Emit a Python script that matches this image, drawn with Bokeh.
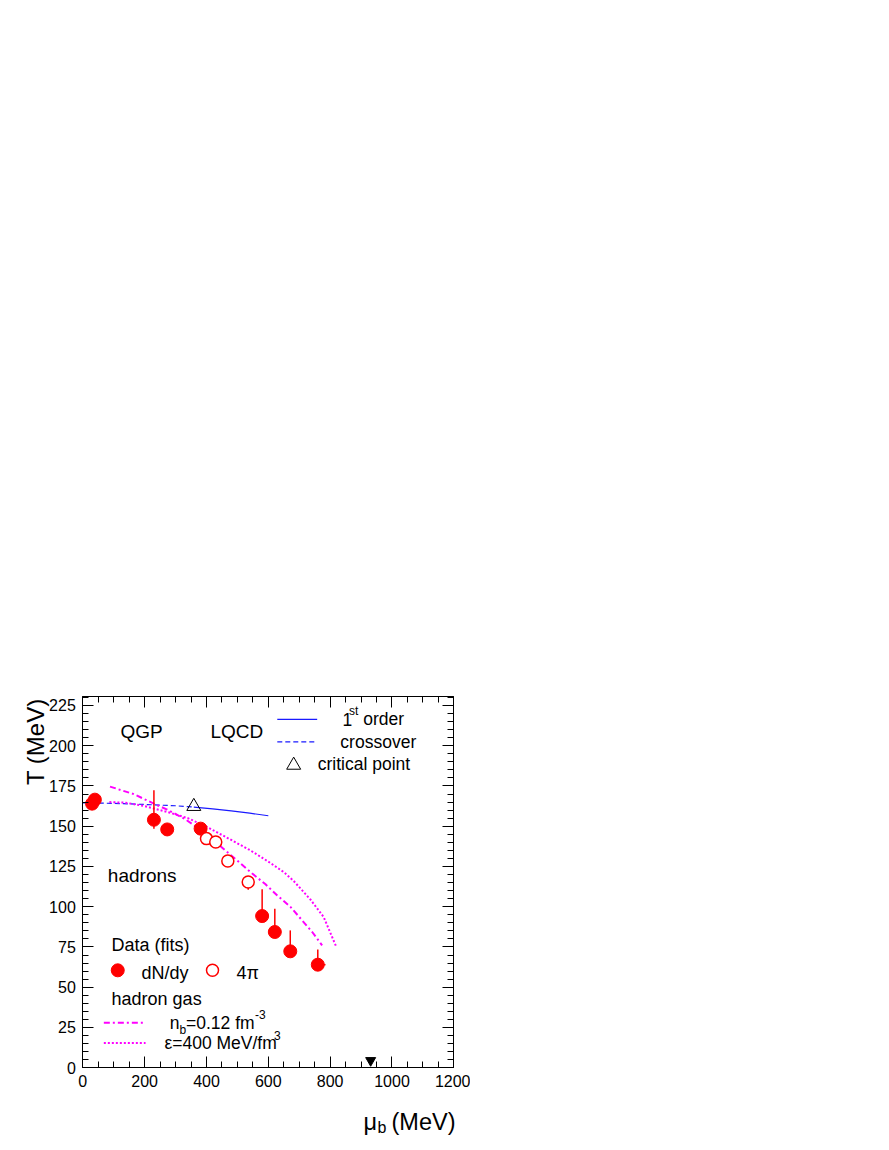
import math
from bokeh.plotting import figure
from bokeh.models import Label, LinearAxis, FixedTicker, Range1d
from bokeh.embed import file_html
from bokeh.resources import INLINE

FONT = "Liberation Sans"

# ---------------- data ----------------
# freeze-out fits, dN/dy (filled)
dndy_mu = [30, 39, 230, 273, 381, 580, 621, 671, 760]
dndy_T = [164.0, 166.5, 154.0, 148.0, 148.5, 94.2, 84.3, 72.3, 64.0]
dndy_T_lo = [164.0, 166.5, 148.5, 148.0, 148.5, 94.2, 84.3, 72.3, 64.0]
dndy_T_hi = [164.0, 166.5, 172.3, 148.0, 148.5, 110.8, 98.8, 85.3, 73.5]
dndy_mu_lo = [30, 39, 230, 273, 381, 580, 621, 671, 745]
dndy_mu_hi = [30, 39, 230, 273, 381, 580, 621, 671, 785]

# freeze-out fits, 4pi (open)
fourpi_mu = [400, 430, 469, 535]
fourpi_T = [142.3, 140.2, 128.4, 115.4]
fourpi_T_lo = [142.3, 140.2, 128.4, 110.6]
fourpi_T_hi = [142.3, 140.2, 128.4, 115.4]

# lattice QCD
crossover_mu = [0, 100, 200, 300, 359]
crossover_T = [164.5, 164.2, 163.5, 162.7, 161.9]
first_order_mu = [359, 420, 480, 540, 600]
first_order_T = [161.9, 160.8, 159.5, 158.1, 156.5]
critical_mu = [359]
critical_T = [162.3]

# hadron gas curves
nb_mu = [88, 165, 230, 273, 330, 391, 467, 548, 591, 629, 672, 742, 774]
nb_T = [174.6, 169.9, 164.0, 160.3, 154.5, 146.4, 134.0, 120.6, 113.9, 107.0, 99.8, 84.3, 76.0]
eps_mu = [86, 138, 200, 273, 340, 402, 470, 542, 600, 650, 682, 736, 779, 820]
eps_T = [165.0, 164.6, 162.5, 158.9, 155.0, 149.5, 142.5, 135.0, 128.0, 121.5, 116.0, 104.5, 93.6, 75.0]

# nucleon mass marker
nucleon_mu = [931]
nucleon_T = [4.5]

X_MIN, X_MAX = 0, 1200
Y_MIN, Y_MAX = 0, 230.6
x_major = [0, 200, 400, 600, 800, 1000, 1200]
x_minor = list(range(0, 1201, 50))
y_major = list(range(0, 226, 25))
y_minor = list(range(0, 231, 5))

# legend sample positions
leg_line_mu = [629, 758]
leg_first_T = [216.3, 216.3]
leg_cross_T = [202.4, 202.4]
leg_tri = ([682], [187.9])
leg_hg_mu = [68, 203]
leg_nb_T = [28.0, 28.0]
leg_eps_T = [15.3, 15.3]
leg_dot = ([113], [60.5])
leg_open = ([419.5], [60.5])

RED = "#ff0000"
BLUE = "#1a1aff"
MAG = "#ff00ff"

# the frame spans the whole drawing area; the visible box is built from
# four axes pinned at the data limits
p = figure(
    output_backend="svg", toolbar_location=None,
    frame_width=470, frame_height=460,
    min_border_left=0, min_border_top=680, min_border_right=0, min_border_bottom=0,
    x_range=Range1d(-266.2, 1253.9), y_range=Range1d(-45.2, 240.5),
    background_fill_color="white", border_fill_color="white",
)
p.title.visible = False
p.xgrid.visible = False
p.ygrid.visible = False
p.outline_line_color = None


def style_axis(ax, major, minor, loc, bounds, labels=True):
    ax.fixed_location = loc
    ax.bounds = bounds
    ax.ticker = FixedTicker(ticks=major, minor_ticks=minor)
    ax.major_tick_in = 11
    ax.major_tick_out = 0
    ax.minor_tick_in = 6
    ax.minor_tick_out = 0
    ax.axis_line_color = "black"
    ax.major_tick_line_color = "black"
    ax.minor_tick_line_color = "black"
    ax.major_label_text_font = FONT
    ax.major_label_text_font_size = "16px"
    ax.major_label_text_color = "black"
    ax.major_label_standoff = 7
    if not labels:
        ax.major_label_text_font_size = "0px"
        ax.major_label_text_alpha = 0


style_axis(p.xaxis[0], x_major, x_minor, Y_MIN, (X_MIN, X_MAX))
style_axis(p.yaxis[0], y_major, y_minor, X_MIN, (Y_MIN, Y_MAX))
top_ax = LinearAxis()
style_axis(top_ax, x_major, x_minor, Y_MAX, (X_MIN, X_MAX), labels=False)
p.add_layout(top_ax, "above")
right_ax = LinearAxis()
style_axis(right_ax, y_major, y_minor, X_MAX, (Y_MIN, Y_MAX), labels=False)
p.add_layout(right_ax, "right")

# ---------------- curves ----------------
p.line(crossover_mu, crossover_T, line_color=BLUE, line_width=1.2, line_dash="5 3")
p.line(first_order_mu, first_order_T, line_color=BLUE, line_width=1.2)
p.line(nb_mu, nb_T, line_color=MAG, line_width=2, line_dash="6 3 2 3")
p.line(eps_mu, eps_T, line_color=MAG, line_width=2, line_dash="2 2")

# error bars
p.segment(dndy_mu, dndy_T_lo, dndy_mu, dndy_T_hi, line_color=RED, line_width=1.5)
p.segment(dndy_mu_lo, dndy_T, dndy_mu_hi, dndy_T, line_color=RED, line_width=1.5)
p.segment(fourpi_mu, fourpi_T_lo, fourpi_mu, fourpi_T_hi, line_color=RED, line_width=1.5)

# points
p.scatter(dndy_mu, dndy_T, marker="circle", size=13, fill_color=RED, line_color=RED)
p.scatter(fourpi_mu, fourpi_T, marker="circle", size=12, fill_color="white",
          line_color=RED, line_width=1.5)
p.scatter(critical_mu, critical_T, marker="triangle", size=14, fill_color=None,
          line_color="black", line_width=1)
p.scatter(nucleon_mu, nucleon_T, marker="inverted_triangle", size=10,
          fill_color="black", line_color="black")

# legend samples
p.line(leg_line_mu, leg_first_T, line_color=BLUE, line_width=1.2)
p.line(leg_line_mu, leg_cross_T, line_color=BLUE, line_width=1.2, line_dash="5 3")
p.scatter(leg_tri[0], leg_tri[1], marker="triangle", size=14, fill_color=None,
          line_color="black", line_width=1)
p.line(leg_hg_mu, leg_nb_T, line_color=MAG, line_width=2, line_dash="6 3 2 3")
p.line(leg_hg_mu, leg_eps_T, line_color=MAG, line_width=2, line_dash="2 2")
p.scatter(leg_dot[0], leg_dot[1], marker="circle", size=13, fill_color=RED, line_color=RED)
p.scatter(leg_open[0], leg_open[1], marker="circle", size=12, fill_color="white",
          line_color=RED, line_width=1.5)

TEXT_DY = 3.7   # baseline correction (data units)


def lab(x, y, t, size="17.5px", align="left", angle=0.0, dy=TEXT_DY):
    p.add_layout(Label(x=x, y=y + dy, text=t, text_font=FONT, text_font_size=size,
                       text_color="black", text_align=align,
                       text_baseline="alphabetic", angle=angle))


# texts inside the box
lab(122, 205.0, "QGP", "19px")
lab(413, 205.0, "LQCD", "19px")
lab(840, 212.7, "1")
lab(861, 217.6, "st", "12px")
lab(907, 212.7, "order")
lab(833, 198.7, "crossover")
lab(760, 185.1, "critical point")
lab(81, 115.4, "hadrons", "19px")
lab(93, 72.5, "Data (fits)", "18px")
lab(190, 55.3, "dN/dy", "18px")
lab(497, 55.3, "4π", "18px")
lab(93, 38.7, "hadron gas", "18px")
lab(281.4, 24.2, "n")
lab(312.8, 20.0, "b", "12px")
lab(333.8, 24.2, "=0.12 fm")
lab(557, 29.4, "-3", "12px")
lab(264, 11.8, "ε=400 MeV/fm")
lab(618, 16.3, "3", "12px")

# axis titles
lab(-153.0, 229.4, "T (MeV)", "24px", align="right", angle=math.pi / 2, dy=0)
lab(908, -37.7, "μ", "23.5px")
lab(953, -40.8, "b", "16px")
lab(998.5, -37.7, "(MeV)", "23.5px")

open("out.html", "w").write(file_html(p, INLINE))
